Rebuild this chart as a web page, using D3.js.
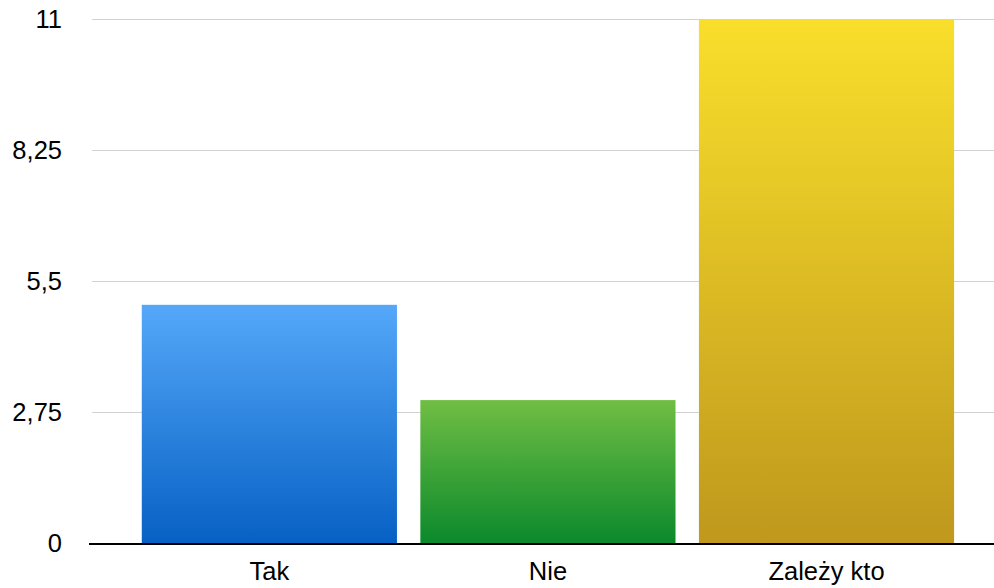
<!DOCTYPE html>
<html><head><meta charset="utf-8">
<script src="https://cdn.jsdelivr.net/npm/d3@7"></script>
<style>html,body{margin:0;padding:0;background:#fff;}svg{display:block;}</style>
</head><body>
<svg id="chart" width="994" height="588"></svg>
<script>
const categories = ["Tak", "Nie", "Zależy kto"];
const values = [5, 3, 11];
const yTicks = [0, 2.75, 5.5, 8.25, 11];
const yTickLabels = ["0", "2,75", "5,5", "8,25", "11"];
const colorsTop = ["#55a8f9", "#70be44", "#f9df2b"];
const colorsBottom = ["#0761c4", "#0b892c", "#bf981d"];

const svg = d3.select("#chart");
const W = 994, H = 588;
const x0 = 92, x1 = 994, yTop = 19, yBottom = 543;
const FONT = "Liberation Sans, Arial, Helvetica, sans-serif";
const FS = 25.5;

const x = d3.scaleBand().domain(categories).range([x0, x1])
  .paddingInner(0.084).paddingOuter(0.161).align(0.555);
const y = d3.scaleLinear().domain([0, 11]).range([yBottom, yTop]);

const defs = svg.append("defs");
categories.forEach((c, i) => {
  const g = defs.append("linearGradient").attr("id", "g" + i)
    .attr("x1", 0).attr("y1", 0).attr("x2", 0).attr("y2", 1);
  g.append("stop").attr("offset", "0%").attr("stop-color", colorsTop[i]);
  g.append("stop").attr("offset", "100%").attr("stop-color", colorsBottom[i]);
});

// gridlines
const grid = svg.append("g").attr("transform", `translate(${x0},0)`)
  .call(d3.axisLeft(y).tickValues(yTicks.filter(t => t > 0)).tickSize(-(x1 - x0)).tickFormat(""));
grid.select(".domain").remove();
grid.selectAll(".tick line").attr("stroke", "#d2d2d2").attr("stroke-width", 1);

// y labels
const yAxis = svg.append("g").attr("transform", `translate(62,0)`)
  .call(d3.axisLeft(y).tickValues(yTicks).tickSize(0).tickPadding(0)
    .tickFormat((d, i) => yTickLabels[i]));
yAxis.select(".domain").remove();
yAxis.selectAll("text").attr("font-family", FONT)
  .attr("font-size", FS).attr("fill", "#000");

// bars
svg.append("g").selectAll("rect").data(values).join("rect")
  .attr("x", (d, i) => x(categories[i]))
  .attr("width", x.bandwidth())
  .attr("y", d => y(d))
  .attr("height", d => y(0) - y(d))
  .attr("fill", (d, i) => `url(#g${i})`);

// x axis
const xAxis = svg.append("g").attr("transform", `translate(0,${yBottom})`)
  .call(d3.axisBottom(x).tickSize(0).tickPadding(19));
xAxis.select(".domain").remove();
xAxis.selectAll("text").attr("font-family", FONT)
  .attr("font-size", FS).attr("fill", "#000");
svg.append("line").attr("x1", 89).attr("x2", W).attr("y1", yBottom + 1).attr("y2", yBottom + 1)
  .attr("stroke", "#000").attr("stroke-width", 2);
</script>
</body></html>
